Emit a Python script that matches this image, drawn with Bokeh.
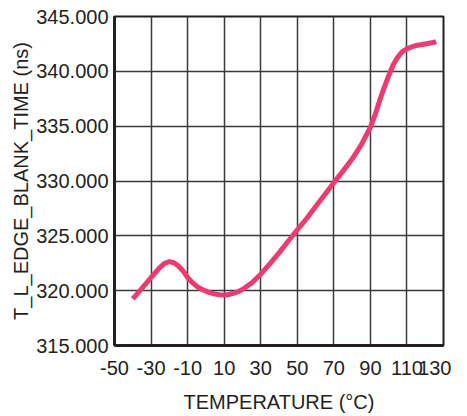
from bokeh.plotting import figure
from bokeh.models import Range1d, FixedTicker
from bokeh.embed import file_html
from bokeh.resources import INLINE

# Data
temperature = [-40, -35, -30, -25, -22.5, -20, -17.5, -15, -12.5, -10, -7.5, -5, -2.5, 0, 2.5, 5,
               7.5, 10, 12.5, 15, 17.5, 20, 25, 30, 35, 40, 45, 50, 55, 60, 65, 70, 75, 80, 85,
               90, 92.5, 95, 97.5, 100, 102.5, 105, 107.5, 110, 112.5, 115, 120, 125, 126]
blank_time = [319.25, 320.2, 321.2, 322.15, 322.5, 322.65, 322.55, 322.25, 321.8, 321.2, 320.75,
              320.4, 320.15, 319.95, 319.8, 319.7, 319.63, 319.6, 319.65, 319.75, 319.9, 320.1,
              320.7, 321.5, 322.45, 323.45, 324.5, 325.55, 326.55, 327.65, 328.75, 329.85,
              330.9, 332.0, 333.3, 334.9, 336.0, 337.3, 338.5, 339.6, 340.6, 341.3, 341.8,
              342.05, 342.22, 342.35, 342.5, 342.65, 342.72]

x_ticks = [-50, -30, -10, 10, 30, 50, 70, 90, 110, 130]
x_tick_labels = ["-50", "-30", "-10", "10", "30", "50", "70", "90", "110", "130"]
y_ticks = [315, 320, 325, 330, 335, 340, 345]
y_tick_labels = ["315.000", "320.000", "325.000", "330.000", "335.000", "340.000", "345.000"]

FONT = "Liberation Sans"
TXT = "#231f20"

p = figure(frame_width=329, frame_height=329,
           x_range=Range1d(-50, 130), y_range=Range1d(315, 345),
           output_backend="svg", toolbar_location=None,
           min_border_left=114, min_border_top=16, min_border_right=8, min_border_bottom=55)

p.line(temperature, blank_time, line_color="#ED3B71", line_width=5, line_cap="butt",
       line_join="round")

p.xaxis.ticker = FixedTicker(ticks=x_ticks)
p.yaxis.ticker = FixedTicker(ticks=y_ticks)
p.xaxis.major_label_overrides = {t: l for t, l in zip(x_ticks, x_tick_labels)}
p.yaxis.major_label_overrides = {t: l for t, l in zip(y_ticks, y_tick_labels)}

p.xaxis.axis_label = "TEMPERATURE (\u00b0C)"
p.yaxis.axis_label = "T_L_EDGE_BLANK_TIME (ns)"

for ax in (p.xaxis[0], p.yaxis[0]):
    ax.axis_line_color = TXT
    ax.axis_line_width = 3
    ax.major_tick_line_color = None
    ax.minor_tick_line_color = None
    ax.major_tick_out = 0
    ax.major_tick_in = 0
    ax.major_label_text_font = FONT
    ax.major_label_text_font_size = "20px"
    ax.major_label_text_color = TXT
    ax.axis_label_text_font = FONT
    ax.axis_label_text_font_size = "20px"
    ax.axis_label_text_font_style = "normal"
    ax.axis_label_text_color = TXT

p.xaxis.major_label_standoff = 15
p.xaxis.axis_label_standoff = 13
p.yaxis.major_label_standoff = 6
p.yaxis.axis_label_standoff = 1

p.xgrid.ticker = FixedTicker(ticks=x_ticks)
p.ygrid.ticker = FixedTicker(ticks=y_ticks)
p.grid.grid_line_color = "#3a3a3a"
p.grid.grid_line_width = 1.5

p.outline_line_color = TXT
p.outline_line_width = 2
p.background_fill_color = "white"
p.border_fill_color = "white"

open("out.html", "w").write(file_html(p, INLINE))
